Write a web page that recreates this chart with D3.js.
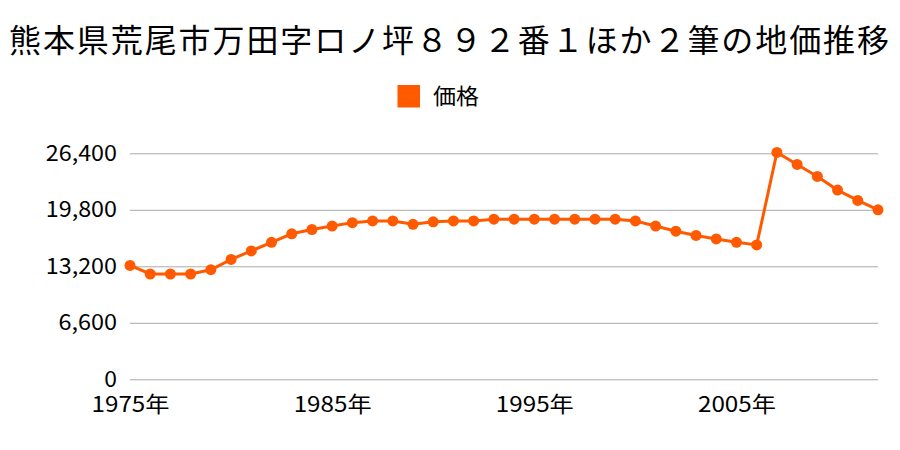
<!DOCTYPE html>
<html><head><meta charset="utf-8">
<script src="https://cdn.jsdelivr.net/npm/d3@7"></script>
<style>body{margin:0;background:#fff}svg{display:block}</style>
</head><body><svg id="c" width="900" height="450"></svg>
<script>
const title = "熊本県荒尾市万田字ロノ坪８９２番１ほか２筆の地価推移";
const seriesName = "価格";
const years = d3.range(1975, 2013);
const prices = [13300,12300,12300,12300,12800,14000,15000,16000,17000,17500,
  17900,18300,18500,18500,18100,18400,18500,18500,18700,18700,
  18700,18700,18700,18700,18700,18500,17900,17300,16800,16400,
  16000,15700,26500,25100,23700,22100,20900,19800];
const yTicks = [0,6600,13200,19800,26400];
const xTickYears = [1975,1985,1995,2005];

const svg = d3.select("#c");
const font = "'Noto Sans CJK JP', sans-serif";
const color = "#ff5a00";
const x = d3.scaleLinear().domain([1975,2012]).range([130,878]);
const y = d3.scaleLinear().domain([0,26400]).range([379.3,153.3]);

svg.append("text").attr("x",9).attr("y",52)
  .attr("font-family",font).attr("font-size",32)
  .attr("textLength",880).attr("lengthAdjust","spacing").text(title);

svg.append("rect").attr("x",397.5).attr("y",85).attr("width",22.5).attr("height",22.5).attr("fill",color);
svg.append("text").attr("x",433).attr("y",104).attr("font-family",font).attr("font-size",22)
  .attr("textLength",46).attr("lengthAdjust","spacingAndGlyphs").text(seriesName);

const fmt = d3.format(",");
const yAxis = d3.axisLeft(y).tickValues(yTicks).tickSize(-(878-130)).tickFormat(fmt);
const gy = svg.append("g").attr("transform","translate(130,0)").call(yAxis);
gy.select(".domain").remove();
gy.selectAll(".tick line").attr("stroke","#aaa").attr("stroke-width",1);
gy.selectAll(".tick text").attr("x",-13).attr("font-family",font).attr("font-size",22).attr("fill","#000")
  .each(function(d){ const s = fmt(d); d3.select(this).attr("textLength", s.length*12.7 - (s.includes(",")?5:0)).attr("lengthAdjust","spacingAndGlyphs"); });

const xAxis = d3.axisBottom(x).tickValues(xTickYears).tickSize(0).tickFormat(d=>d+"年");
const gx = svg.append("g").attr("transform","translate(0,379.3)").call(xAxis);
gx.select(".domain").remove();
gx.selectAll(".tick text").attr("dy",0).attr("y",33).attr("font-family",font).attr("font-size",22).attr("fill","#000")
  .attr("textLength",78).attr("lengthAdjust","spacingAndGlyphs");

const data = years.map((yr,i)=>({yr, v:prices[i]}));
svg.append("path").datum(data).attr("fill","none").attr("stroke",color).attr("stroke-width",3)
  .attr("d", d3.line().x(d=>x(d.yr)).y(d=>y(d.v)));
svg.selectAll("circle.p").data(data).join("circle").attr("class","p")
  .attr("cx",d=>x(d.yr)).attr("cy",d=>y(d.v)).attr("r",5.5).attr("fill",color);
</script></body></html>
